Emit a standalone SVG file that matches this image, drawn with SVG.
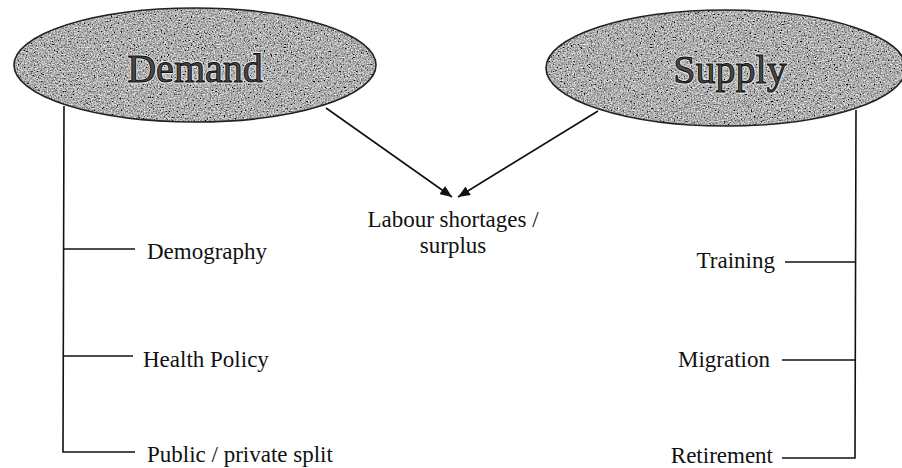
<svg xmlns="http://www.w3.org/2000/svg" width="902" height="468" viewBox="0 0 902 468">
<style>
.lbl{font-family:"Liberation Serif","Times New Roman",serif;font-size:23px;fill:#111}
.big{font-family:"Liberation Serif","Times New Roman",serif;font-size:40px;text-anchor:middle}
.halo{fill:none;stroke:#e6e6e6;stroke-width:3;stroke-linejoin:round}
.bigtxt{fill:#4a4a4a;stroke:#111;stroke-width:1}
.ln{stroke:#111;stroke-width:1.6;fill:none}
.ell{stroke:#222;stroke-width:1.6}
</style>
<defs>
<filter id="grain" x="0" y="0" width="100%" height="100%">
<feTurbulence type="fractalNoise" baseFrequency="0.7" numOctaves="2" seed="4" result="n"/>
<feColorMatrix in="n" type="matrix" values="0.8 0.8 0.8 0 -0.78  0.8 0.8 0.8 0 -0.78  0.8 0.8 0.8 0 -0.78  0 0 0 0 1" result="g"/>
<feComposite in="g" in2="SourceGraphic" operator="in"/>
</filter>
<marker id="ah" viewBox="0 0 12 10" refX="12" refY="5" markerWidth="12" markerHeight="10" markerUnits="userSpaceOnUse" orient="auto">
<path d="M0,0 L12,5 L0,10 Z" fill="#111"/>
</marker>
</defs>
<rect width="902" height="468" fill="#fff"/>
<g id="demand">
<ellipse cx="195" cy="65" rx="181" ry="57" fill="#777" filter="url(#grain)"/>
<ellipse class="ell" cx="195" cy="65" rx="181" ry="57" fill="none"/>
<text class="big halo" x="195" y="82">Demand</text>
<text class="big bigtxt" x="195" y="82">Demand</text>
</g>
<g id="supply">
<ellipse cx="726" cy="68" rx="180" ry="58" fill="#777" filter="url(#grain)"/>
<ellipse class="ell" cx="726" cy="68" rx="180" ry="58" fill="none"/>
<text class="big halo" x="730" y="83">Supply</text>
<text class="big bigtxt" x="730" y="83">Supply</text>
</g>
<g id="labour">
<text class="lbl" x="453" y="227" text-anchor="middle">Labour shortages /</text>
<text class="lbl" x="453" y="253" text-anchor="middle">surplus</text>
</g>
<g id="demography"><text class="lbl" x="147" y="259">Demography</text></g>
<g id="health-policy"><text class="lbl" x="143" y="367">Health Policy</text></g>
<g id="public-private"><text class="lbl" x="147" y="462">Public / private split</text></g>
<g id="training"><text class="lbl" x="775" y="268" text-anchor="end">Training</text></g>
<g id="migration"><text class="lbl" x="770" y="367" text-anchor="end">Migration</text></g>
<g id="retirement"><text class="lbl" x="773" y="463" text-anchor="end">Retirement</text></g>
<g id="connectors">
<line class="ln" x1="326" y1="108" x2="452" y2="197" marker-end="url(#ah)"/>
<line class="ln" x1="598" y1="111" x2="458" y2="197" marker-end="url(#ah)"/>
<polyline class="ln" points="64,106 63,452 135,452"/>
<line class="ln" x1="63" y1="249" x2="135" y2="249"/>
<line class="ln" x1="63" y1="356" x2="133" y2="356"/>
<polyline class="ln" points="856,110 855,458 782,458"/>
<line class="ln" x1="785" y1="262" x2="855" y2="262"/>
<line class="ln" x1="782" y1="360" x2="855" y2="360"/>
</g>
</svg>
